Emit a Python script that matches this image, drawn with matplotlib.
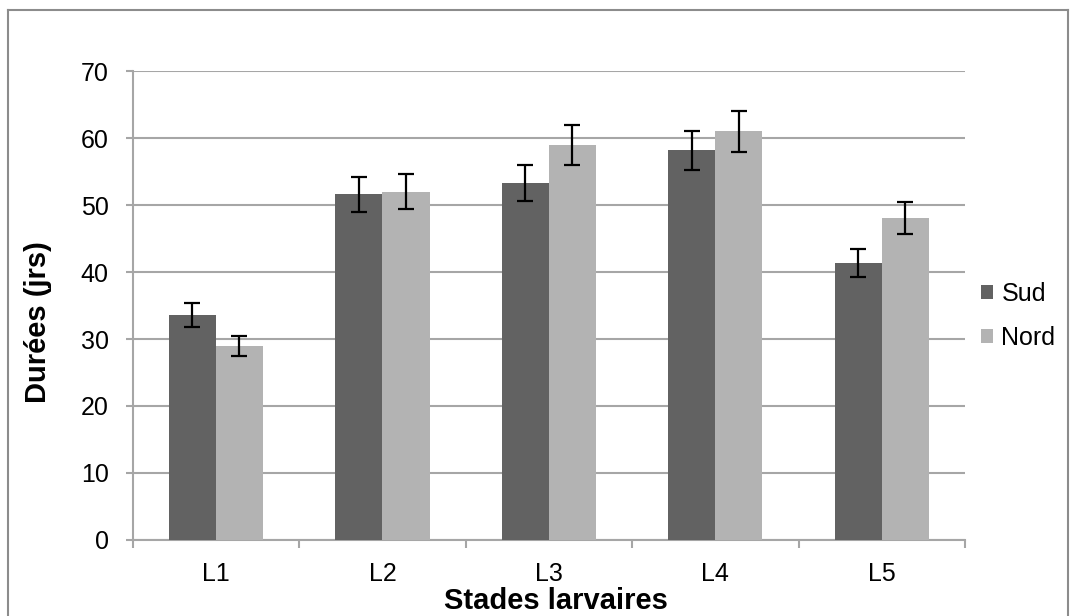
import matplotlib
matplotlib.use("Agg")
import matplotlib.pyplot as plt
import numpy as np
from matplotlib.lines import Line2D

plt.rcParams['font.family'] = ['Liberation Sans', 'DejaVu Sans']

categories = ["L1", "L2", "L3", "L4", "L5"]
sud = [33.6, 51.6, 53.3, 58.2, 41.3]
sud_err = [1.75, 2.6, 2.7, 2.9, 2.1]
nord = [29.0, 52.0, 59.0, 61.0, 48.0]
nord_err = [1.5, 2.6, 3.0, 3.1, 2.4]
yticks = [0, 10, 20, 30, 40, 50, 60, 70]

fig = plt.figure(figsize=(10.76, 6.16), dpi=100)
ax = fig.add_axes([0.1233, 0.1234, 0.7736, 0.7613])

x = np.arange(len(categories))
w = 0.283
grid_col = "#a6a6a6"
ek = dict(ecolor="black", elinewidth=1.6, capsize=6, capthick=1.6)
ax.bar(x - w/2, sud, w, color="#626262", yerr=sud_err, error_kw=ek, label="Sud", zorder=3)
ax.bar(x + w/2, nord, w, color="#b3b3b3", yerr=nord_err, error_kw=ek, label="Nord", zorder=3)

ax.set_xlim(-0.5, len(categories) - 0.5)
ax.set_ylim(0, 70)
ax.set_yticks(yticks)
ax.set_yticklabels([str(t) for t in yticks], fontsize=18)
ax.yaxis.grid(True, color=grid_col, linewidth=1.5, zorder=0)
ax.set_axisbelow(True)

ax.set_xticks(x)
ax.set_xticklabels(categories, fontsize=18)
ax.tick_params(axis='x', length=0, pad=16)
ax.set_xticks(np.arange(len(categories) + 1) - 0.5, minor=True)
ax.tick_params(axis='x', which='minor', length=6, width=1.5, color=grid_col, direction='out')
ax.tick_params(axis='y', length=5.4, width=1.5, color=grid_col, pad=12)

for s in ["top", "right"]:
    ax.spines[s].set_visible(False)
for s in ["left", "bottom"]:
    ax.spines[s].set_color(grid_col)
    ax.spines[s].set_linewidth(1.5)

ax.set_ylabel("Durées (jrs)", fontsize=21, fontweight="bold")
ax.yaxis.set_label_coords(-0.097, 0.465)
ax.set_xlabel("Stades larvaires", fontsize=21, fontweight="bold")
ax.xaxis.set_label_coords(0.509, -0.1)

leg = ax.legend(loc="center left", bbox_to_anchor=(1.0, 0.478), frameon=False,
                fontsize=18, handlelength=0.48, handleheight=0.48, handletextpad=0.32,
                labelspacing=0.8, borderaxespad=0.25)

W, H = 1076, 616
bc = "#8c8c8c"
for xs, ys in [([8, 8], [0, H - 10]), ([8, 1068], [H - 10, H - 10]), ([1068, 1068], [H - 10, 0])]:
    fig.add_artist(Line2D([v / W for v in xs], [v / H for v in ys], transform=fig.transFigure,
                          color=bc, linewidth=1.5))

fig.savefig("out.png", dpi=100)
